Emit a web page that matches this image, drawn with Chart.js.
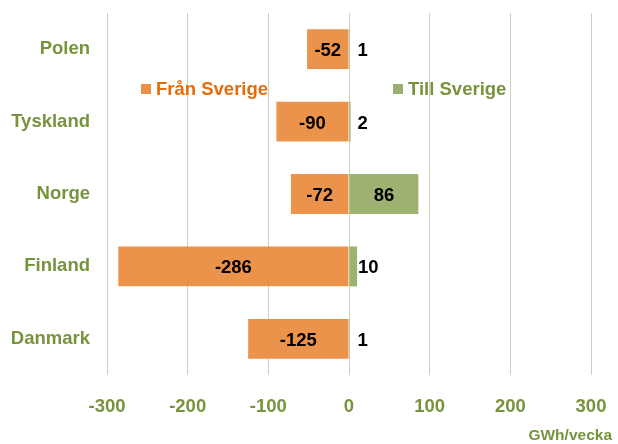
<!DOCTYPE html>
<html>
<head>
<meta charset="utf-8">
<script src="https://cdn.jsdelivr.net/npm/chart.js@4/dist/chart.umd.min.js"></script>
<style>
html,body{margin:0;padding:0;background:#fff;}
#wrap{width:618px;height:444px;position:relative;}
</style>
</head>
<body>
<div id="wrap"><canvas id="c" width="618" height="444"></canvas></div>
<script>
const categories = ['Polen', 'Tyskland', 'Norge', 'Finland', 'Danmark'];
const franSverige = [-52, -90, -72, -286, -125];
const tillSverige = [1, 2, 86, 10, 1];
const seriesNames = ['Från Sverige', 'Till Sverige'];
const xMin = -300, xMax = 300, xStep = 100;
const unitLabel = 'GWh/vecka';

const GREEN_TXT = '#77933C';
const ORANGE_TXT = '#E46C0A';
const ORANGE_BAR = 'rgba(233,139,61,0.93)';
const GREEN_BAR = 'rgba(150,172,101,0.93)';
const FONT = '"Liberation Sans", Arial, sans-serif';

const valueLabels = {
  id: 'valueLabels',
  afterDatasetsDraw(chart) {
    const ctx = chart.ctx;
    ctx.save();
    ctx.font = 'bold 18.5px ' + FONT;
    ctx.fillStyle = '#000';
    ctx.textBaseline = 'middle';
    chart.data.datasets.forEach((ds, di) => {
      const meta = chart.getDatasetMeta(di);
      meta.data.forEach((el, i) => {
        const v = ds.data[i];
        const txt = String(v);
        const w = ctx.measureText(txt).width;
        const x0 = Math.min(el.x, el.base), x1 = Math.max(el.x, el.base);
        if (x1 - x0 > w + 6) {
          ctx.textAlign = 'center';
          ctx.fillText(txt, (x0 + x1) / 2, el.y + 2);
        } else {
          ctx.textAlign = 'left';
          ctx.fillText(txt, Math.max(x1 + 1, el.base + 8), el.y + 2);
        }
      });
    });
    ctx.restore();
  }
};

const customLegend = {
  id: 'customLegend',
  afterDraw(chart) {
    const ctx = chart.ctx;
    ctx.save();
    ctx.font = 'bold 18.5px ' + FONT;
    ctx.textBaseline = 'middle';
    const items = [
      {name: seriesNames[0], box: '#E9914A', col: ORANGE_TXT, x: 141},
      {name: seriesNames[1], box: '#9BB06E', col: GREEN_TXT, x: 393}
    ];
    items.forEach(it => {
      ctx.fillStyle = it.box;
      ctx.fillRect(it.x, 84, 10, 10);
      ctx.fillStyle = it.col;
      ctx.textAlign = 'left';
      ctx.fillText(it.name, it.x + 15, 90);
    });
    ctx.font = 'bold 15.5px ' + FONT;
    ctx.fillStyle = GREEN_TXT;
    ctx.textAlign = 'right';
    ctx.fillText(unitLabel, 612, 436);
    ctx.restore();
  }
};

new Chart(document.getElementById('c'), {
  type: 'bar',
  data: {
    labels: categories,
    datasets: [
      {label: seriesNames[0], data: franSverige, backgroundColor: ORANGE_BAR, barPercentage: 0.55, categoryPercentage: 1.0},
      {label: seriesNames[1], data: tillSverige, backgroundColor: GREEN_BAR, barPercentage: 0.55, categoryPercentage: 1.0}
    ]
  },
  options: {
    indexAxis: 'y',
    responsive: false,
    animation: false,
    devicePixelRatio: 1,
    layout: {padding: {top: 13, right: 27, bottom: 0, left: 0}},
    plugins: {legend: {display: false}, tooltip: {enabled: false}},
    scales: {
      x: {
        stacked: true,
        min: xMin, max: xMax,
        ticks: {stepSize: xStep, color: GREEN_TXT, font: {family: FONT, size: 18.5, weight: 'bold'}, padding: 21},
        grid: {color: '#C9D3B5', lineWidth: 1, drawTicks: false},
        border: {display: false},
        afterFit(scale) { scale.height = 69; scale.paddingLeft = 0; scale.paddingRight = 0; }
      },
      y: {
        stacked: true,
        ticks: {color: GREEN_TXT, font: {family: FONT, size: 18.5, weight: 'bold'}, padding: 17},
        grid: {display: false, drawTicks: false},
        border: {display: false},
        afterFit(scale) { scale.width = 107; scale.paddingTop = 0; scale.paddingBottom = 0; }
      }
    }
  },
  plugins: [valueLabels, customLegend]
});
</script>
</body>
</html>
